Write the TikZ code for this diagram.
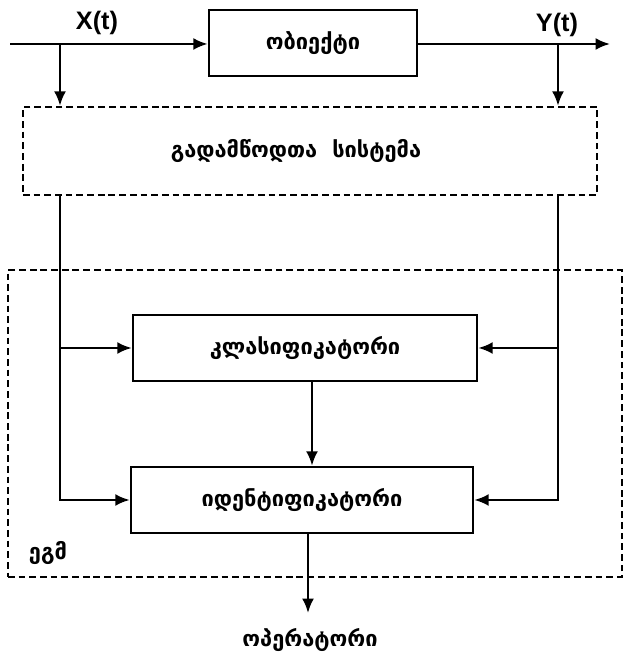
\documentclass[tikz,border=0pt]{standalone}
\usepackage{fontspec}
\usepackage{tikz}
\usetikzlibrary{arrows.meta, positioning, calc}
\newfontfamily\geofont{DejaVu Sans}
\newfontfamily\latfont{Liberation Sans}

\begin{document}
\begin{tikzpicture}[
    font=\geofont\bfseries\fontsize{15.5}{17}\selectfont,
    block/.style={
        draw=black,
        rectangle,
        inner sep=0pt,
        line width=1.8pt
    },
    dashbox/.style={
        draw=black,
        rectangle,
        inner sep=0pt,
        line width=1.7pt,
        dash pattern=on 4.8pt off 2.8pt
    },
    arrow/.style={
        -{Latex[length=3.6mm,width=3mm]},
        line width=1.8pt,
        draw=black
    },
    bareline/.style={
        line width=1.8pt,
        draw=black
    },
    signal/.style={
        font=\latfont\bfseries\fontsize{18}{20}\selectfont,
        inner sep=1pt
    }
]
\useasboundingbox (0,0) rectangle (15.6,16.35);

% ============================================================
% Object and its input / output signals
% ============================================================

\node[block, minimum width=5.2cm, minimum height=1.65cm] (obj) at (7.825,15.275) {ობიექტი};

\coordinate (in)  at (0.25,15.25);
\coordinate (out) at (15.25,15.25);
\coordinate (lx)  at (1.5,15.25);
\coordinate (rx)  at (13.95,15.25);

\draw[arrow] (in) -- (obj.west |- in);
\draw[arrow] (obj.east |- out) -- (out);

\node[signal] (xt) at (2.425,15.775) {X(t)};
\node[signal] (yt) at (13.925,15.725) {Y(t)};

% ============================================================
% Sensor system
% ============================================================

\node[dashbox, minimum width=14.35cm, minimum height=2.2cm] (sens) at (7.75,12.575) {};
\node (senstxt) at (7.4,12.575) {გადამწოდთა\ \ სისტემა};

\draw[arrow] (lx) -- (lx |- sens.north);
\draw[arrow] (rx) -- (rx |- sens.north);

% ============================================================
% Computer: classifier and identifier
% ============================================================

\node[dashbox, minimum width=15.35cm, minimum height=7.675cm] (egm) at (7.875,5.7625) {};
\node (egmtxt) at (1.2,2.525) {ეგმ};

\node[block, minimum width=8.6cm, minimum height=1.65cm] (cls) at (7.625,7.65) {კლასიფიკატორი};
\node[block, minimum width=8.55cm, minimum height=1.65cm] (idf) at (7.55,3.85) {იდენტიფიკატორი};

\draw[arrow] (lx |- sens.south) |- (idf.west);
\draw[arrow] (lx |- cls.west) -- (cls.west);
\draw[arrow] (rx |- sens.south) |- (idf.east);
\draw[arrow] (rx |- cls.east) -- (cls.east);

\coordinate (mid) at (7.8,0);
\draw[arrow] (mid |- cls.south) -- (mid |- idf.north);

% ============================================================
% Operator
% ============================================================

\node (oper) at (7.75,0.35) {ოპერატორი};
\coordinate (optip) at (7.7,1.025);
\draw[arrow] (optip |- idf.south) -- (optip);

\end{tikzpicture}
\end{document}
